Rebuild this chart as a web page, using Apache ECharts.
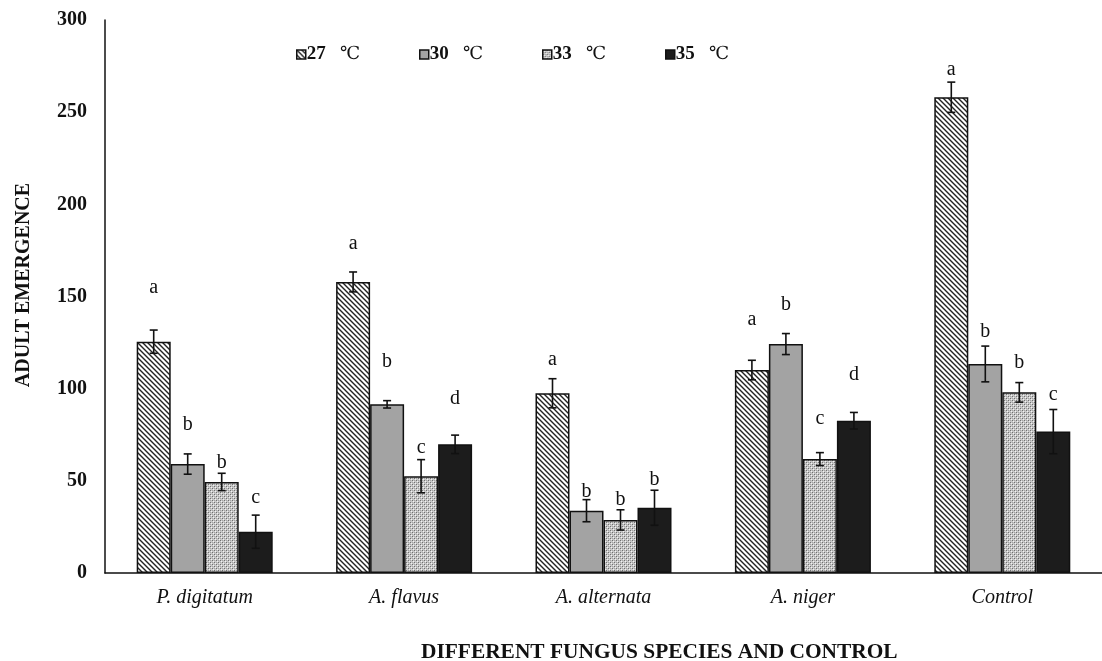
<!DOCTYPE html>
<html><head><meta charset="utf-8">
<script src="https://cdn.jsdelivr.net/npm/echarts@6/dist/echarts.min.js"></script>
<style>html,body{margin:0;padding:0;background:#fff}#c{width:1102px;height:661px}</style>
</head><body><div id="c"></div>
<script>
const categories = ['P. digitatum', 'A. flavus', 'A. alternata', 'A. niger', 'Control'];
const seriesNames = ['27   ℃', '30   ℃', '33   ℃', '35   ℃'];
const yTicks = [0, 50, 100, 150, 200, 250, 300];
const v27 = [125.5, 157.9, 97.5, 110.1, 258.1];
const v30 = [59.1, 91.5, 33.8, 124.2, 113.4];
const v33 = [49.4, 52.5, 28.8, 61.8, 98.0];
const v35 = [22.4, 69.8, 35.4, 82.6, 76.7];
const e27 = [6.3, 5.4, 7.9, 5.3, 8.2];
const e30 = [5.5, 2.0, 6.0, 5.7, 9.7];
const e33 = [4.7, 9.0, 5.5, 3.5, 5.3];
const e35 = [9.0, 5.0, 9.5, 4.5, 12.0];
const l27 = ['a', 'a', 'a', 'a', 'a'];
const l30 = ['b', 'b', 'b', 'b', 'b'];
const l33 = ['b', 'c', 'b', 'c', 'b'];
const l35 = ['c', 'd', 'b', 'd', 'c'];
// letter heights (data units)
const h27 = [154.6, 178.5, 115.6, 137.3, 272.9];
const h30 = [80.3, 114.6, 44.1, 145.4, 130.9];
const h33 = [59.8, 67.7, 39.6, 83.9, 113.8];
const h35 = [40.9, 94.8, 50.5, 107.4, 96.6];

const values = [v27, v30, v33, v35];
const errors = [e27, e30, e33, e35];
const letters = [l27, l30, l33, l35];
const heights = [h27, h30, h33, h35];

function mk(w, h, draw) { const c = document.createElement('canvas'); c.width = w; c.height = h; const g = c.getContext('2d'); draw(g); return c; }
const hatch = mk(5, 5, g => {
  g.fillStyle = '#fff'; g.fillRect(0, 0, 5, 5);
  g.strokeStyle = '#222'; g.lineWidth = 1.4;
  g.beginPath(); g.moveTo(-1, -1); g.lineTo(6, 6); g.moveTo(-1, 4); g.lineTo(1, 6); g.moveTo(4, -1); g.lineTo(6, 1); g.stroke();
});
const dots = mk(4, 4, g => {
  g.fillStyle = '#c8c8c8'; g.fillRect(0, 0, 4, 4);
  g.fillStyle = '#707070'; g.fillRect(0, 0, 1, 1); g.fillRect(2, 2, 1, 1);
  g.fillStyle = '#f2f2f2'; g.fillRect(1, 1, 1, 1); g.fillRect(3, 3, 1, 1);
  g.fillStyle = '#a4a4a4'; g.fillRect(2, 0, 1, 1); g.fillRect(0, 2, 1, 1);
});
const fills = [{ image: hatch, repeat: 'repeat' }, '#a3a3a3', { image: dots, repeat: 'repeat' }, '#1c1c1c'];

const BW = 34;
const serif = 'Liberation Serif';
const series = [];
values.forEach((vals, i) => {
  series.push({
    name: seriesNames[i], type: 'bar', data: vals, barWidth: BW, barGap: '0%',
    itemStyle: { color: fills[i], borderColor: '#111', borderWidth: 1.5 },
    emphasis: { disabled: true }
  });
});
values.forEach((vals, i) => {
  const off = (i - 1.5) * BW;
  series.push({
    type: 'custom', silent: true, z: 5,
    data: vals.map((v, k) => [k, v, errors[i][k]]),
    renderItem: (p, api) => {
      const k = api.value(0), v = api.value(1), e = api.value(2);
      const top = api.coord([k, v + e]), bot = api.coord([k, v - e]);
      const x = top[0] + off, cw = 4;
      return { type: 'group', children: [
        { type: 'line', shape: { x1: x, y1: top[1], x2: x, y2: bot[1] }, style: { stroke: '#111', lineWidth: 1.6 } },
        { type: 'line', shape: { x1: x - cw, y1: top[1], x2: x + cw, y2: top[1] }, style: { stroke: '#111', lineWidth: 1.6 } },
        { type: 'line', shape: { x1: x - cw, y1: bot[1], x2: x + cw, y2: bot[1] }, style: { stroke: '#111', lineWidth: 1.6 } }
      ] };
    }
  });
  series.push({
    type: 'custom', silent: true, z: 6,
    data: heights[i].map((h, k) => [k, h, letters[i][k]]),
    renderItem: (p, api) => {
      const k = api.value(0), h = api.value(1);
      const pt = api.coord([k, h]);
      return { type: 'text', x: pt[0] + off, y: pt[1], style: { text: letters[i][k], fill: '#111', font: '20px "' + serif + '"', align: 'center', verticalAlign: 'middle' } };
    }
  });
});

const legendLefts = [296, 419, 542, 665];
const legends = seriesNames.map((n, i) => ({
  data: [n], top: 45, left: legendLefts[i], icon: 'rect', itemWidth: 9, itemHeight: 9, padding: 0,
  formatter: name => { const parts = name.split('℃'); return '{n|' + parts[0] + '}{d|℃}'; },
  textStyle: {
    color: '#111', padding: [0, 0, 0, -4],
    rich: {
      n: { fontFamily: serif, fontSize: 19, fontWeight: 'bold', color: '#111' },
      d: { fontFamily: 'DejaVu Serif', fontSize: 18, fontWeight: 'normal', color: '#111' }
    }
  },
  itemStyle: { borderColor: '#111', borderWidth: 1.5 }
}));

const chart = echarts.init(document.getElementById('c'), null, { renderer: 'canvas' });
chart.setOption({
  animation: false,
  backgroundColor: '#fff',
  grid: { left: 105, top: 20, width: 1006, height: 553, containLabel: false },
  legend: legends,
  xAxis: {
    type: 'category', data: categories,
    axisLine: { lineStyle: { color: '#111', width: 1.5 } }, axisTick: { show: false },
    axisLabel: { fontFamily: serif, fontStyle: 'italic', fontSize: 20, color: '#111', margin: 15 }
  },
  yAxis: {
    type: 'value', min: 0, max: 300, interval: 50,
    axisLine: { show: true, lineStyle: { color: '#111', width: 1.5 } }, axisTick: { show: false },
    splitLine: { show: false },
    axisLabel: { fontFamily: serif, fontWeight: 'bold', fontSize: 20, color: '#111', margin: 18,
      formatter: v => yTicks.includes(v) ? String(v) : '' }
  },
  graphic: [
    { type: 'text', left: 421, top: 642, style: { text: 'DIFFERENT FUNGUS SPECIES AND CONTROL', font: 'bold 21.4px "' + serif + '"', fill: '#111' } },
    { type: 'text', x: 24, y: 285, rotation: Math.PI / 2, style: { text: 'ADULT EMERGENCE', font: 'bold 20px "' + serif + '"', fill: '#111', align: 'center', verticalAlign: 'middle' } }
  ],
  series
});
</script></body></html>
